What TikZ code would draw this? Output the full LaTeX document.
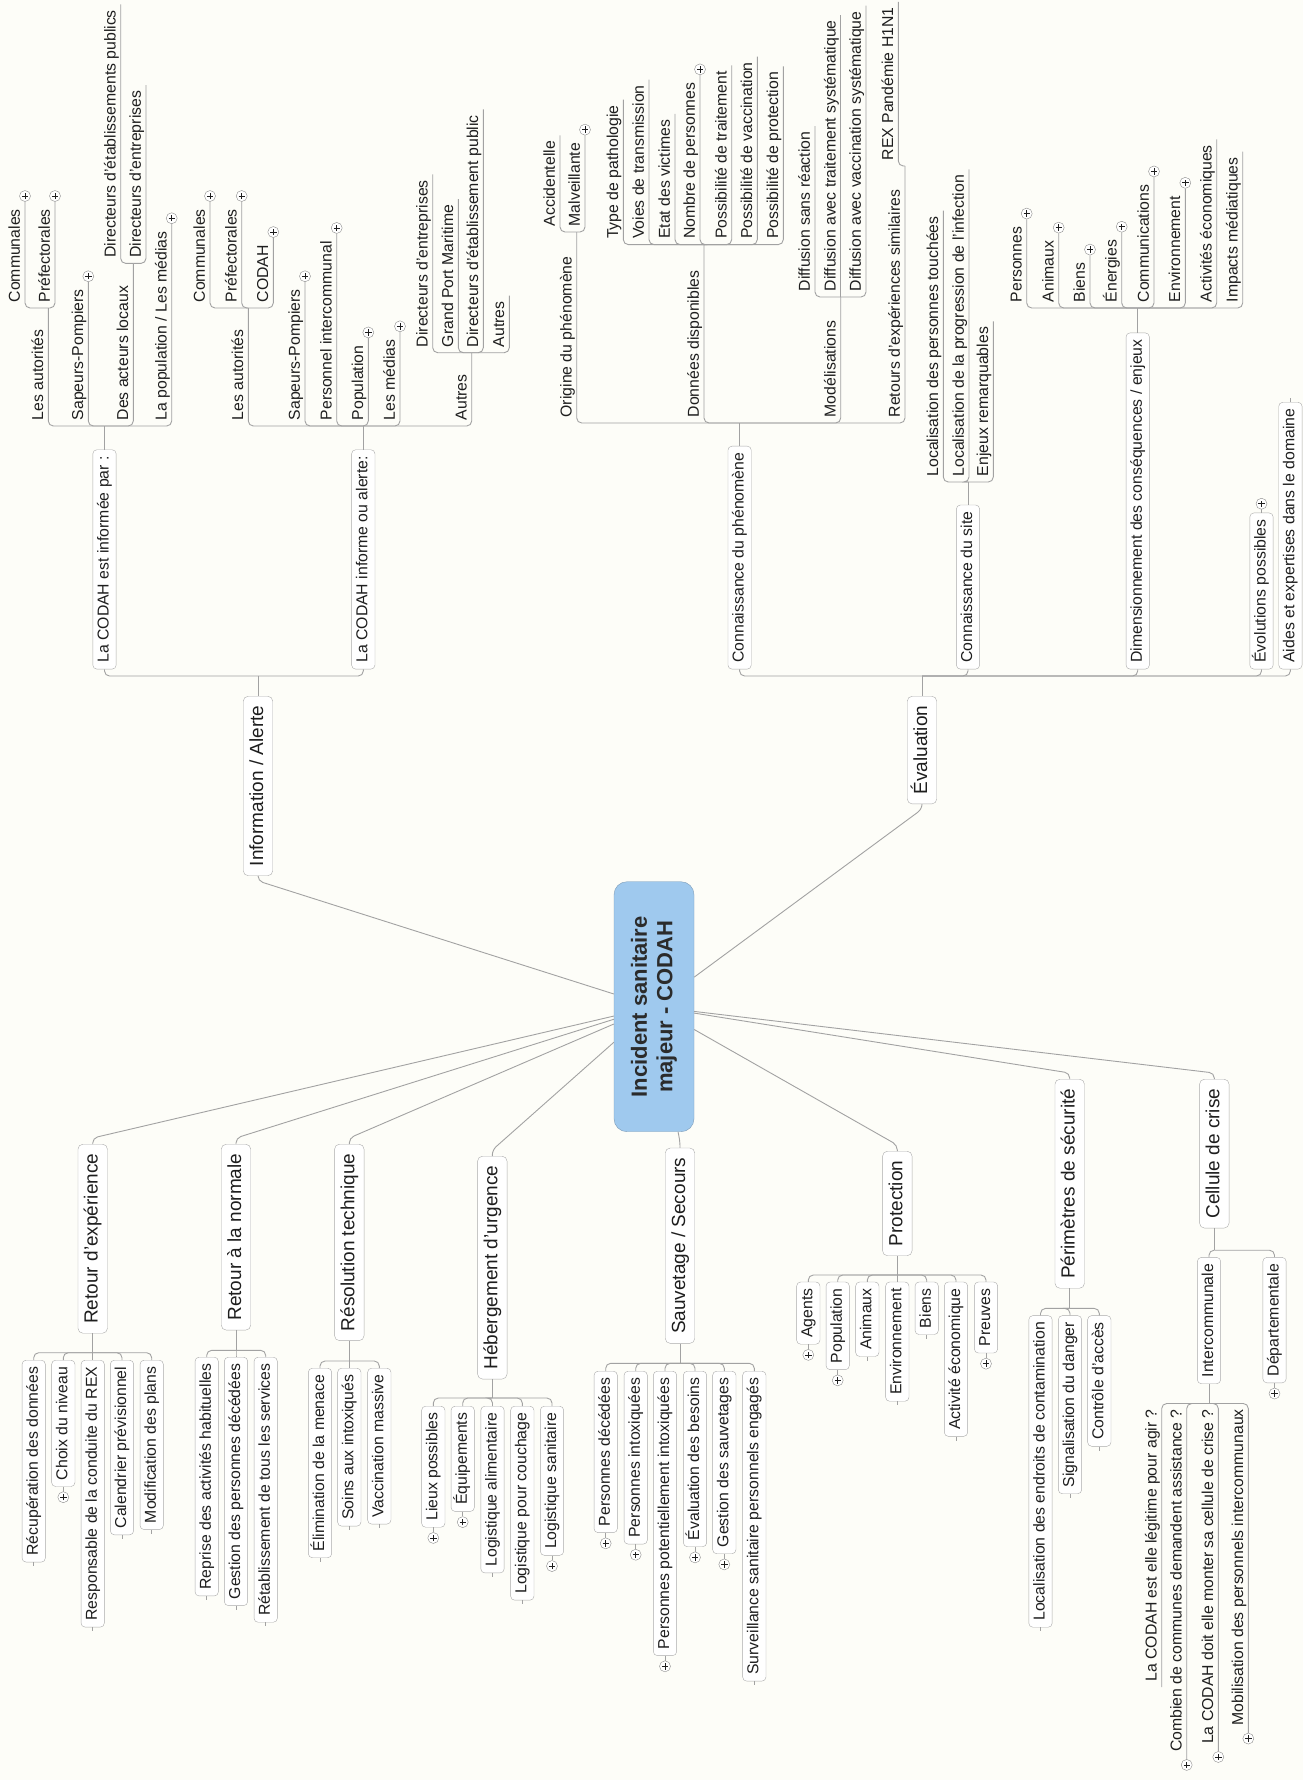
\documentclass[tikz,border=0pt]{standalone}
\usepackage{fontspec}
\setmainfont{Liberation Sans}
\usepackage{tikz}
\usetikzlibrary{calc}

\definecolor{bgc}{HTML}{FDFDF8}
\definecolor{linegray}{HTML}{A2A2A2}
\definecolor{boxline}{HTML}{ABABAB}
\definecolor{plusline}{HTML}{8C8C8C}
\definecolor{rootblue}{HTML}{9FC9EE}
\definecolor{rootline}{HTML}{7D9CB8}
\definecolor{txt}{HTML}{1E1E1E}
\definecolor{roottxt}{HTML}{2B2B2B}

\newcommand{\fsmall}{\fontsize{15.8}{18}\selectfont}
\newcommand{\fmain}{\fontsize{19}{22}\selectfont}
\newcommand{\froot}{\fontsize{22}{25.5}\selectfont\bfseries}

\begin{document}
\begin{tikzpicture}[
    x=1pt, y=-1pt,
    font=\fsmall, text=txt,
    %% node styles
    root/.style={
        draw=rootline, fill=rootblue, rounded corners=13pt, rotate=90,
        minimum width=250pt, minimum height=80pt,
        align=center, font=\froot, text=roottxt
    },
    topic/.style={
        draw=boxline, fill=white, rounded corners=5pt, rotate=90,
        minimum height=29.5pt, inner xsep=9.5pt,
        text height=14pt, text depth=4pt, font=\fmain
    },
    sub/.style={
        draw=boxline, fill=white, rounded corners=4pt, rotate=90,
        minimum height=23.3pt, inner xsep=6.5pt,
        text height=11.5pt, text depth=3.4pt
    },
    leaf/.style={
        rotate=90, inner xsep=5.5pt, inner ysep=1.5pt,
        text height=11.5pt, text depth=3.4pt
    },
    plusc/.style={
        circle, draw=plusline, fill=white, minimum size=11pt, inner sep=0pt,
        path picture={\draw[txt, line width=0.8pt]
            ([xshift=-3.2pt]path picture bounding box.center) -- ([xshift=3.2pt]path picture bounding box.center)
            ([yshift=-3.2pt]path picture bounding box.center) -- ([yshift=3.2pt]path picture bounding box.center);}
    },
    %% connector style
    link/.style={draw=linegray, line width=0.9pt, rounded corners=5pt}
]

    \useasboundingbox (0,0) rectangle (1303,1780);
    \fill[bgc] (0,0) rectangle (1303,1780);

    %% --- central topic ----------------------------------------
    \node[root] (root) at (654,1006.7) {Incident sanitaire\\majeur - CODAH};

    %% --- Information / Alerte ---------------------------------
    \node[topic, anchor=east] (info) at (258,696) {Information / Alerte};
    \draw[link] (root) -- ($(info.west)+(0,5)$) -- (info.west);
    \coordinate (jinfo) at (258,676);
    \draw[link] (info.east) -- (jinfo);
    \node[sub, anchor=west] (par) at (104.5,669.3) {La CODAH est informée par :};
    \node[sub, anchor=west] (alr) at (363.3,669.3) {La CODAH informe ou alerte:};
    \draw[link] (jinfo) -| (par.west);
    \draw[link] (jinfo) -| (alr.west);

    % informée par
    \coordinate (jpar) at (104.5,426);
    \draw[link] (par.east) -- (jpar);
    \node[leaf, anchor=south west] (parA) at (48.3,426) {Les autorités};
    \node[leaf, anchor=south west] (parL) at (133.3,426) {Des acteurs locaux};
    \coordinate (jparA) at (48.3,308);
    \coordinate (jparL) at (133.3,263.4);
    \draw[link] (jpar) -| (jparA);
    \draw[link] (jpar) -| (jparL);
    \foreach \x/\t/\p in {88.3/Sapeurs-Pompiers/1, 171.7/{La population / Les médias}/1} {
        \node[leaf, anchor=south west] (n) at (\x,426) {\t};
        \ifnum\p=1 \node[plusc] (np) at ($(n.south east)+(0,-7.5)$) {}; \draw[link] (jpar) -| (np);
        \else \draw[link] (jpar) -| (n.south east); \fi
    }
    \foreach \x/\t/\p in {25/Communales/1, 55/Préfectorales/1} {
        \node[leaf, anchor=south west] (n) at (\x,308) {\t};
        \ifnum\p=1 \node[plusc] (np) at ($(n.south east)+(0,-7.5)$) {}; \draw[link] (jparA) -| (np);
        \else \draw[link] (jparA) -| (n.south east); \fi
    }
    \foreach \x/\t/\p in {120.7/Directeurs d'établissements publics/0, 146/Directeurs d'entreprises/0} {
        \node[leaf, anchor=south west] (n) at (\x,263.4) {\t};
        \draw[link] (jparL) -| (n.south east);
    }

    % informe ou alerte
    \coordinate (jalr) at (363.3,426);
    \draw[link] (alr.east) -- (jalr);
    \node[leaf, anchor=south west] (alrA) at (248.3,426) {Les autorités};
    \node[leaf, anchor=south west] (alrO) at (471.7,426) {Autres};
    \coordinate (jalrA) at (248.3,308);
    \coordinate (jalrO) at (471.7,352.7);
    \draw[link] (jalr) -| (jalrA);
    \draw[link] (jalr) -| (jalrO);
    \foreach \x/\t/\p in {305/Sapeurs-Pompiers/1, 336.7/Personnel intercommunal/1,
                          368.3/Population/1, 400/Les médias/1} {
        \node[leaf, anchor=south west] (n) at (\x,426) {\t};
        \ifnum\p=1 \node[plusc] (np) at ($(n.south east)+(0,-7.5)$) {}; \draw[link] (jalr) -| (np);
        \else \draw[link] (jalr) -| (n.south east); \fi
    }
    \foreach \x/\t/\p in {210/Communales/1, 241.7/Préfectorales/1, 273.3/CODAH/1} {
        \node[leaf, anchor=south west] (n) at (\x,308) {\t};
        \ifnum\p=1 \node[plusc] (np) at ($(n.south east)+(0,-7.5)$) {}; \draw[link] (jalrA) -| (np);
        \else \draw[link] (jalrA) -| (n.south east); \fi
    }
    \foreach \x/\t in {432.7/Directeurs d'entreprises, 458.3/Grand Port Maritime,
                       483.3/Directeurs d'établissement public, 509.3/Autres} {
        \node[leaf, anchor=south west] (n) at (\x,352.7) {\t};
        \draw[link] (jalrO) -| (n.south east);
    }

    %% --- Évaluation -------------------------------------------
    \node[topic, anchor=east] (eval) at (922,696) {Évaluation};
    \draw[link] (root) -- ($(eval.west)+(0,5)$) -- (eval.west);
    \coordinate (jeval) at (922,676);
    \draw[link] (eval.east) -- (jeval);
    \node[sub, anchor=west] (phen) at (739.6,669.3) {Connaissance du phénomène};
    \node[sub, anchor=west] (site) at (968,669.3) {Connaissance du site};
    \node[sub, anchor=west] (dim)  at (1137.7,669.3) {Dimensionnement des conséquences / enjeux};
    \node[sub, anchor=west] (evo)  at (1261.5,669.3) {Évolutions possibles};
    \node[sub, anchor=west] (aide) at (1290.4,669.3) {Aides et expertises dans le domaine};
    \foreach \n in {phen, site, dim, evo, aide} \draw[link] (jeval) -| (\n.west);
    \node[plusc] (pevo) at ($(evo.east)+(0,-9)$) {};
    \draw[link] (evo.east) -- (pevo);
    \draw[link] (aide.east) -- ++(0,-4);

    % connaissance du phénomène
    \coordinate (jphen) at (739.6,423);
    \draw[link] (phen.east) -- (jphen);
    \node[leaf, anchor=south west] (orig) at (576.7,423) {Origine du phénomène};
    \node[leaf, anchor=south west] (donn) at (704,423) {Données disponibles};
    \node[leaf, anchor=south west] (mode) at (840.7,423) {Modélisations};
    \node[leaf, anchor=south west] (rets) at (905,423) {Retours d'expériences similaires};
    \coordinate (jorig) at (576.7,232);
    \coordinate (jdonn) at (704,244.6);
    \coordinate (jmode) at (840.7,297);
    \coordinate (jrets) at (905,166);
    \foreach \n in {jorig, jdonn, jmode, jrets} \draw[link] (jphen) -| (\n);
    \foreach \x/\t/\p in {560/Accidentelle/0, 585/Malveillante/1} {
        \node[leaf, anchor=south west] (n) at (\x,232) {\t};
        \ifnum\p=1 \node[plusc] (np) at ($(n.south east)+(0,-7.5)$) {}; \draw[link] (jorig) -| (np);
        \else \draw[link] (jorig) -| (n.south east); \fi
    }
    \foreach \x/\t/\p in {623.3/Type de pathologie/0, 649/Voies de transmission/0,
                          675/Etat des victimes/0, 700/Nombre de personnes/1,
                          731.7/Possibilité de traitement/0, 757.3/Possibilité de vaccination/0,
                          783.3/Possibilité de protection/0} {
        \node[leaf, anchor=south west] (n) at (\x,244.6) {\t};
        \ifnum\p=1 \node[plusc] (np) at ($(n.south east)+(0,-7.5)$) {}; \draw[link] (jdonn) -| (np);
        \else \draw[link] (jdonn) -| (n.south east); \fi
    }
    \foreach \x/\t in {815/Diffusion sans réaction, 840.7/Diffusion avec traitement systématique,
                       866/Diffusion avec vaccination systématique} {
        \node[leaf, anchor=south west] (n) at (\x,297) {\t};
        \draw[link] (jmode) -| (n.south east);
    }
    \node[leaf, anchor=south west] (h1n1) at (898.3,166) {REX Pandémie H1N1};
    \draw[link] (jrets) -| (h1n1.south east);

    % connaissance du site
    \coordinate (jsite) at (968,482);
    \draw[link] (site.east) -- (jsite);
    \foreach \x/\t in {943.3/Localisation des personnes touchées,
                       969/Localisation de la progression de l'infection,
                       993.3/Enjeux remarquables} {
        \node[leaf, anchor=south west] (n) at (\x,482) {\t};
        \draw[link] (jsite) -| (n.south east);
    }

    % dimensionnement
    \coordinate (jdim) at (1137.7,308);
    \draw[link] (dim.east) -- (jdim);
    \foreach \x/\t/\p in {1026.7/Personnes/1, 1058.7/Animaux/1, 1090/Biens/1, 1121.7/Énergies/1,
                          1154/Communications/1, 1185.3/Environnement/1,
                          1216.7/Activités économiques/0, 1242.7/Impacts médiatiques/0} {
        \node[leaf, anchor=south west] (n) at (\x,308) {\t};
        \ifnum\p=1 \node[plusc] (np) at ($(n.south east)+(0,-7.5)$) {}; \draw[link] (jdim) -| (np);
        \else \draw[link] (jdim) -| (n.south east); \fi
    }

    %% --- main topics below the centre -------------------------
    \node[topic, anchor=east] (rex)  at (92.7,1144)   {Retour d'expérience};
    \node[topic, anchor=east] (norm) at (236,1144)    {Retour à la normale};
    \node[topic, anchor=east] (reso) at (349.3,1144)  {Résolution technique};
    \node[topic, anchor=east] (heb)  at (492.3,1156)  {Hébergement d'urgence};
    \node[topic, anchor=east] (sauv) at (680,1147.8)  {Sauvetage / Secours};
    \node[topic, anchor=east] (prot) at (897.3,1151)  {Protection};
    \node[topic, anchor=east] (peri) at (1069.7,1079) {Périmètres de sécurité};
    \node[topic, anchor=east] (cell) at (1214.3,1079) {Cellule de crise};
    \foreach \n in {rex, norm, reso, heb, sauv, prot, peri, cell}
        \draw[link] (root) -- ($(\n.east)+(0,-6)$) -- (\n.east);

    % retour d'expérience
    \coordinate (jrex) at (92.7,1352.7);
    \draw[link] (rex.west) -- (jrex);
    \foreach \x/\t/\p in {33.7/Récupération des données/0, 63.3/Choix du niveau/1,
                          92.7/Responsable de la conduite du REX/0, 122/Calendrier prévisionnel/0,
                          151.7/Modification des plans/0} {
        \node[sub, anchor=east] (n) at (\x,1360) {\t};
        \draw[link] (jrex) -| (n.east);
        \ifnum\p=1 \node[plusc] (np) at ($(n.west)+(0,10.5)$) {}; \draw[link] (n.west) -- (np);
        \else \draw[link] (n.west) -- ++(0,4); \fi
    }

    % retour à la normale
    \coordinate (jnorm) at (236,1350.3);
    \draw[link] (norm.west) -- (jnorm);
    \foreach \x/\t in {206.7/Reprise des activités habituelles, 236/Gestion des personnes décédées,
                       265.7/Rétablissement de tous les services} {
        \node[sub, anchor=east] (n) at (\x,1357) {\t};
        \draw[link] (jnorm) -| (n.east);
        \draw[link] (n.west) -- ++(0,4);
    }

    % résolution technique
    \coordinate (jreso) at (349.3,1361);
    \draw[link] (reso.west) -- (jreso);
    \foreach \x/\t in {320/Élimination de la menace, 349.3/Soins aux intoxiqués,
                       379.3/Vaccination massive} {
        \node[sub, anchor=east] (n) at (\x,1368) {\t};
        \draw[link] (jreso) -| (n.east);
        \draw[link] (n.west) -- ++(0,4);
    }

    % hébergement d'urgence
    \coordinate (jheb) at (492.3,1398);
    \draw[link] (heb.west) -- (jheb);
    \foreach \x/\t/\p in {433.3/Lieux possibles/1, 462.7/Équipements/1, 492.5/Logistique alimentaire/0,
                          522.3/Logistique pour couchage/0, 552/Logistique sanitaire/1} {
        \node[sub, anchor=east] (n) at (\x,1406) {\t};
        \draw[link] (jheb) -| (n.east);
        \ifnum\p=1 \node[plusc] (np) at ($(n.west)+(0,10.5)$) {}; \draw[link] (n.west) -- (np);
        \else \draw[link] (n.west) -- ++(0,4); \fi
    }

    % sauvetage / secours
    \coordinate (jsauv) at (680,1363.3);
    \draw[link] (sauv.west) -- (jsauv);
    \foreach \x/\t/\p in {605.7/Personnes décédées/1, 635.7/Personnes intoxiquées/1,
                          665/Personnes potentiellement intoxiquées/1, 695/Évaluation des besoins/1,
                          724.3/Gestion des sauvetages/1, 754.3/Surveillance sanitaire personnels engagés/0} {
        \node[sub, anchor=east] (n) at (\x,1371) {\t};
        \draw[link] (jsauv) -| (n.east);
        \ifnum\p=1 \node[plusc] (np) at ($(n.west)+(0,10.5)$) {}; \draw[link] (n.west) -- (np);
        \else \draw[link] (n.west) -- ++(0,4); \fi
    }

    % protection
    \coordinate (jprot) at (897.3,1275);
    \draw[link] (prot.west) -- (jprot);
    \foreach \x/\t/\p in {808.3/Agents/1, 837.7/Population/1, 867.3/Animaux/0, 897.3/Environnement/0,
                          926.7/Biens/0, 956/Activité économique/0, 986/Preuves/1} {
        \node[sub, anchor=east] (n) at (\x,1281.8) {\t};
        \draw[link] (jprot) -| (n.east);
        \ifnum\p=1 \node[plusc] (np) at ($(n.west)+(0,10.5)$) {}; \draw[link] (n.west) -- (np);
        \else \draw[link] (n.west) -- ++(0,4); \fi
    }

    % périmètres de sécurité
    \coordinate (jperi) at (1069.7,1308.4);
    \draw[link] (peri.west) -- (jperi);
    \foreach \x/\t in {1040.5/Localisation des endroits de contamination,
                       1070/Signalisation du danger, 1099.3/Contrôle d'accès} {
        \node[sub, anchor=east] (n) at (\x,1315.4) {\t};
        \draw[link] (jperi) -| (n.east);
        \draw[link] (n.west) -- ++(0,4);
    }

    % cellule de crise
    \coordinate (jcell) at (1214.3,1250.2);
    \draw[link] (cell.west) -- (jcell);
    \node[sub, anchor=east] (inter) at (1209,1257.2) {Intercommunale};
    \node[sub, anchor=east] (dept)  at (1274.5,1257.2) {Départementale};
    \draw[link] (jcell) -| (inter.east);
    \draw[link] (jcell) -| (dept.east);
    \node[plusc] (pdept) at ($(dept.west)+(0,10.5)$) {};
    \draw[link] (dept.west) -- (pdept);

    \coordinate (jinter) at (1209,1403.5);
    \draw[link] (inter.west) -- (jinter);
    \foreach \x/\t/\p in {1161.7/La CODAH est elle légitime pour agir ?/0,
                          1186.7/Combien de communes demandent assistance ?/1,
                          1218.3/La CODAH doit elle monter sa cellule de crise ?/1,
                          1248.3/Mobilisation des personnels intercommunaux/1} {
        \node[leaf, anchor=south east] (n) at (\x,1403.5) {\t};
        \ifnum\p=1 \node[plusc] (np) at ($(n.south west)+(0,7.5)$) {}; \draw[link] (jinter) -| (np);
        \else \draw[link] (jinter) -| (n.south west); \fi
    }

\end{tikzpicture}
\end{document}
